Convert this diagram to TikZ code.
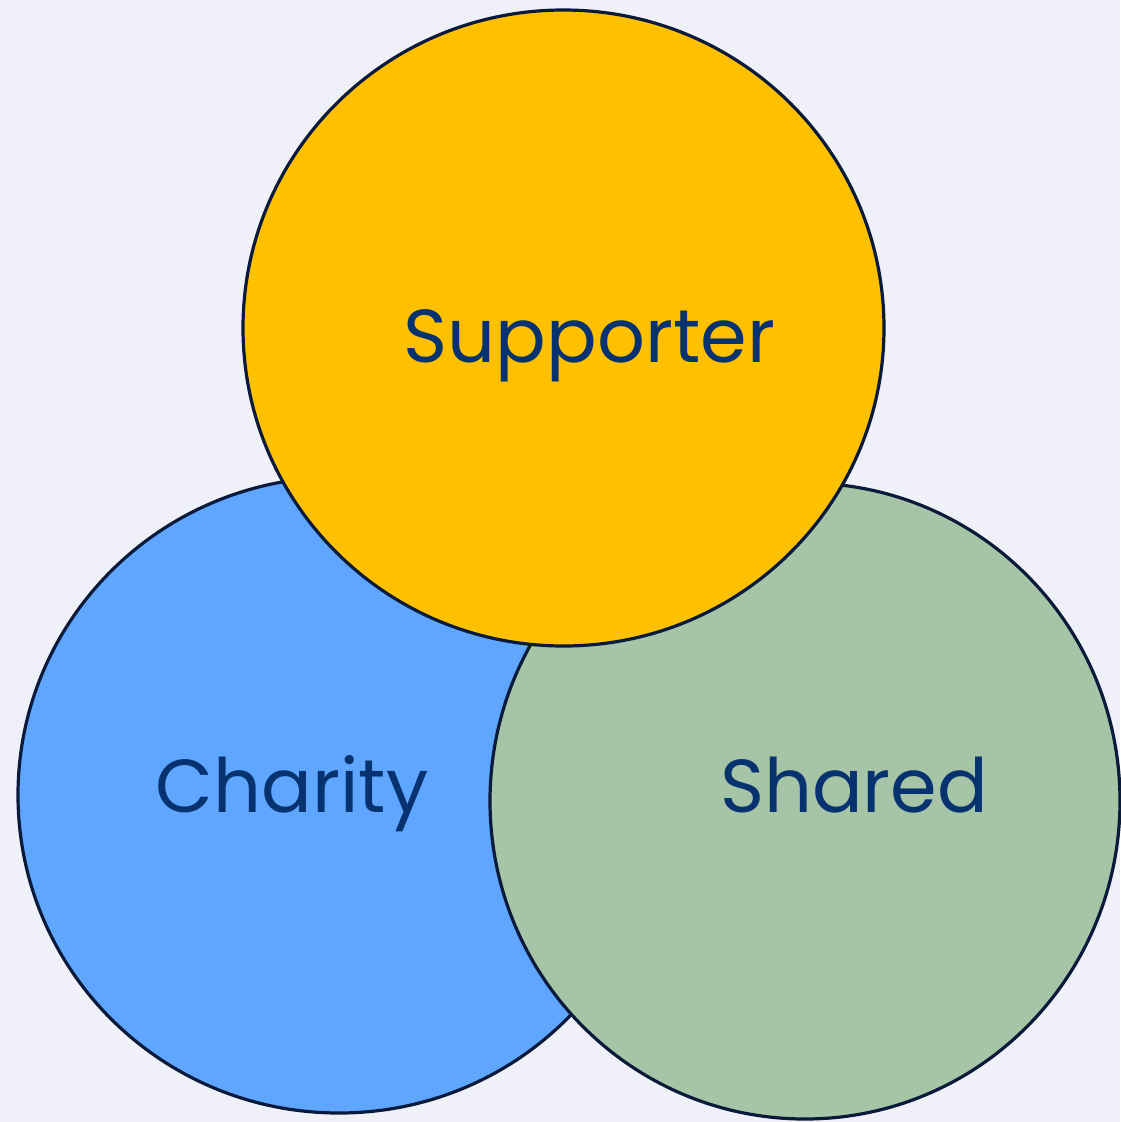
\documentclass[tikz,border=0pt]{standalone}
\usepackage{fontspec}
\setmainfont{Poppins}
\usetikzlibrary{shapes.geometric}
\definecolor{bgcol}{HTML}{F0F0F8}
\definecolor{edgecol}{HTML}{0A1A3A}
\definecolor{textcol}{HTML}{063370}
\definecolor{suppcol}{HTML}{FFC000}
\definecolor{charcol}{HTML}{5EA6FF}
\definecolor{sharcol}{HTML}{A6C4A6}

\begin{document}
\begin{tikzpicture}[x=1pt,y=-1pt,
  blob/.style={ellipse,draw=edgecol,line width=3.2pt,inner sep=0pt},
  lbl/.style={anchor=base,inner sep=0pt,text=textcol,font=\fontsize{75}{80}\selectfont}]
  \useasboundingbox[fill=bgcol] (0,0) rectangle (1120,1122);
  \node[blob,fill=charcol,minimum width=642pt,minimum height=636pt] (charity) at (339,795) {};
  \node[blob,fill=sharcol,minimum width=630pt,minimum height=636pt] (shared) at (805,801) {};
  \node[blob,fill=suppcol,minimum width=641pt,minimum height=636pt] (supporter) at (563.5,328) {};
  \node[lbl] (tsupp) at (589.5,362) {Supporter};
  \node[lbl] (tchar) at (292,812) {Charity};
  \node[lbl] (tshar) at (854,812) {Shared};
\end{tikzpicture}
\end{document}
